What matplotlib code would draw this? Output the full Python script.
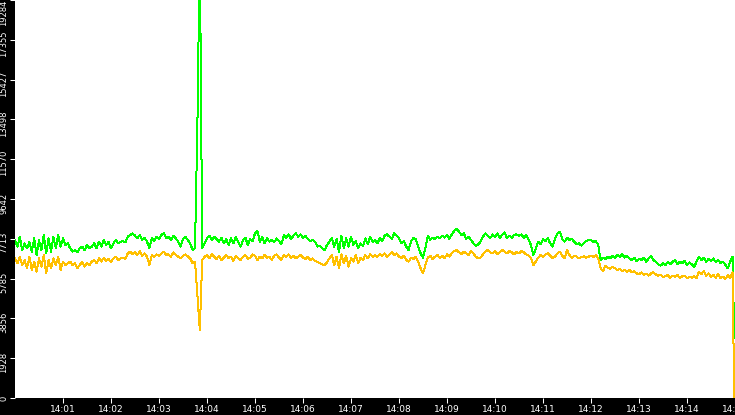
import numpy as np
import matplotlib
matplotlib.use('Agg')
import matplotlib.pyplot as plt
import matplotlib.dates as mdates
from matplotlib.transforms import ScaledTranslation

# samples every 3 s from 14:00:00, last point at 14:14:59
seconds = list(range(0, 900, 3)) + [899]

green = [
    7655, 7332, 7816, 7170, 7493, 7251, 7574, 7090, 7736, 6928,
    7655, 7170, 7897, 7009, 7736, 7090, 7816, 7251, 7897, 7332,
    7736, 7413, 7493, 7251, 7090, 7170, 7057, 7251, 7332, 7170,
    7413, 7251, 7332, 7493, 7251, 7574, 7332, 7655, 7413, 7574,
    7251, 7493, 7655, 7493, 7574, 7606, 7542, 7816, 7897, 7978,
    7865, 7736, 7897, 7655, 7768, 7574, 7251, 7736, 7606, 7816,
    7703, 7897, 7978, 7736, 7816, 7655, 7865, 7736, 7574, 7332,
    7703, 7816, 7655, 7493, 7170,
    7251, 13230, 22000, 7251, 7493, 7736, 7865, 7655, 7816, 7703,
    7574, 7768, 7493, 7703, 7413, 7736, 7493, 7816, 7574, 7332,
    7655, 7768, 7413, 7703, 7606, 7978, 8091, 7574, 7816, 7493,
    7736, 7574, 7655, 7542, 7736, 7606, 7445, 7897, 7768, 7929,
    7703, 7865, 7978, 7816, 7929, 7736, 7865, 7703, 7606, 7655,
    7574, 7332, 7380, 7251, 7170, 7413, 7574, 7768, 7332, 7703,
    7090, 7865, 7251, 7736, 7332, 7816, 7413, 7606, 7251, 7493,
    7380, 7736, 7445, 7816, 7574,
    7655, 7493, 7736, 7606, 7865, 7929, 7816, 7703, 7978, 7865,
    7736, 7493, 7606, 7332, 7170, 7574, 7768, 7703, 7332, 7009,
    6799, 7251, 7865, 7655, 7768, 7703, 7816, 7736, 7865, 7768,
    7897, 7703, 7929, 8091, 8188, 8058, 7897, 7978, 7703, 7816,
    7655, 7493, 7380, 7445, 7574, 7816, 7978, 7865, 7736, 7929,
    7816, 7978, 7768, 7897, 8026, 7736, 7865, 7768, 7897, 7929,
    7865, 7929, 7768, 7897, 7655, 7413, 6928, 7251, 7574, 7445,
    7703, 7606, 7736, 7493, 7332,
    7736, 7978, 8058, 7703, 7574, 7768, 7655, 7703, 7574, 7445,
    7493, 7380, 7493, 7606, 7655, 7639, 7574, 7606, 7413, 6686,
    6799, 6734, 6847, 6766, 6896, 6799, 6928, 6847, 6960, 6799,
    6896, 6766, 6686, 6799, 6637, 6734, 6686, 6799, 6605, 6766,
    6896, 6686, 6605, 6476, 6411, 6524, 6444, 6573, 6476, 6605,
    6686, 6476, 6605, 6524, 6637, 6444, 6573, 6476, 6363, 6605,
    6847, 6686, 6799, 6605, 6734, 6637, 6766, 6573, 6686, 6524,
    6605, 6444, 6282, 6605, 6847,
    2900,
]

orange = [
    6766, 6524, 6847, 6444, 6686, 6282, 6847, 6202, 6605, 6121,
    6766, 6363, 6928, 6040, 6686, 6282, 6766, 6444, 6847, 6202,
    6605, 6444, 6524, 6605, 6444, 6524, 6282, 6444, 6605, 6363,
    6524, 6444, 6605, 6686, 6524, 6766, 6605, 6799, 6637, 6734,
    6573, 6766, 6847, 6686, 6766, 6799, 6734, 7009, 7090, 6960,
    7057, 6928, 7122, 6896, 7009, 6847, 6444, 6928, 6847, 6960,
    6896, 7009, 7090, 6928, 6960, 6847, 7057, 6928, 6847, 6766,
    6896, 6960, 6863, 6766, 6524,
    6605, 4990, 3295, 6686, 6847, 6928, 6766, 6960, 6847, 6734,
    6896, 6686, 6799, 6928, 6766, 6847, 6637, 6896, 6766, 6686,
    6847, 6928, 6734, 6799, 6960, 6896, 6686, 6847, 6766, 6928,
    6799, 6847, 6686, 6896, 6960, 6799, 6686, 6928, 6847, 6960,
    6799, 6896, 6766, 6847, 6928, 6799, 6734, 6847, 6686, 6766,
    6637, 6605, 6524, 6476, 6444, 6573, 6766, 6928, 6444, 6847,
    6282, 6960, 6524, 6896, 6363, 6766, 6605, 6928, 6524, 6799,
    6686, 6928, 6766, 6960, 6847,
    6928, 6847, 6960, 6896, 7009, 6847, 6960, 7057, 6928, 7009,
    6847, 6766, 6896, 6686, 6605, 6799, 6734, 6847, 6605, 6282,
    6040, 6444, 6799, 6896, 6734, 6847, 6928, 6799, 6896, 6766,
    6960, 6847, 7009, 7122, 7170, 7057, 6960, 7090, 7009, 6928,
    7122, 7009, 6847, 6766, 6799, 6960, 7090, 7170, 7057, 7009,
    7122, 6960, 7057, 7170, 7090, 7009, 7122, 7057, 6960, 7090,
    7009, 7122, 7057, 6960, 6896, 6766, 6444, 6605, 6799, 6928,
    6847, 6960, 7009, 6896, 6766,
    6847, 7009, 7090, 6896, 6766, 7170, 6928, 6799, 6896, 6847,
    6766, 6831, 6863, 6799, 6847, 6896, 6831, 6928, 6766, 6282,
    6153, 6411, 6314, 6250, 6363, 6282, 6202, 6250, 6153, 6202,
    6121, 6202, 6088, 6153, 6040, 5991, 6088, 5959, 6024, 5927,
    6040, 6088, 5991, 5927, 5959, 5862, 5894, 5959, 5830, 5927,
    5878, 5959, 5830, 5894, 5927, 5798, 5878, 5830, 5911, 5798,
    6121, 5991, 6153, 5927, 6040, 5878, 5959, 5830, 6024, 5798,
    5878, 5765, 5959, 5830, 6088,
    0,
]

ytick_values = [0, 1928, 3856, 5785, 7713, 9642, 11570, 13498, 15427, 17355, 19284]
y_max = 19284

start = np.datetime64('2024-01-01T14:00:00')
t = start + np.array(seconds).astype('timedelta64[s]')

fig = plt.figure(figsize=(7.35, 4.15), dpi=100, facecolor='black')
ax = fig.add_axes([15 / 735, 17 / 415, 720 / 735, 398 / 415])
ax.set_facecolor('white')

ax.plot(t, green, color='#00ff00', lw=0.72, antialiased=False)
ax.plot(t, orange, color='#ffc000', lw=0.72, antialiased=False)

ax.set_xlim(start, start + np.timedelta64(900, 's'))
ax.set_ylim(0, y_max)

ax.xaxis.set_major_locator(mdates.MinuteLocator(byminute=range(1, 16)))
ax.xaxis.set_major_formatter(mdates.DateFormatter('%H:%M'))

ax.set_yticks(ytick_values)
ax.set_yticklabels([str(v) for v in ytick_values], rotation=90, va='center')

for s in ax.spines.values():
    s.set_visible(False)

ax.tick_params(colors='white', length=3.5, width=0.75)
ax.tick_params(axis='x', labelsize=6.5, pad=1.5)
ax.tick_params(axis='y', labelsize=6, pad=1.5)

# labels sit a little below their tick, the top one hangs from the edge
shift = ScaledTranslation(0, -0.04, fig.dpi_scale_trans)
ylabels = ax.get_yticklabels()
for lab in ylabels[1:-1]:
    lab.set_transform(lab.get_transform() + shift)
ylabels[-1].set_va('top')

fig.savefig('out.png', dpi=100, facecolor='black')
